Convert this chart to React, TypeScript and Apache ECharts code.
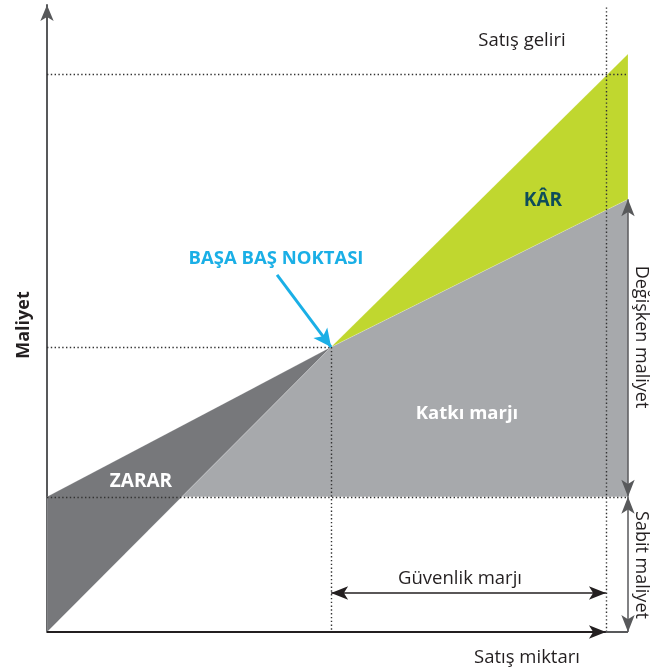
import React, { useEffect, useRef } from "react";
import * as echarts from "echarts";

// ---- data (chart units: quantity 0..100, money 0..100) ----
const X_MAX = 100;
const Y_MAX = 108.5;
const fixedCost = 23.4;
const totalCostAtEnd = 74.9;
const revenueAtEnd = 100;
const breakEven = [48.9, 49.3];
const actualSales = [96.2, 96.6]; // quantity, revenue
const safetyArrowLevel = 6.75;
const pointerStart = [39.6, 61.8];

const revenueCrossFixedX = (fixedCost * breakEven[0]) / breakEven[1];

const lossArea = [[0, 0], breakEven, [0, fixedCost]];
const contributionArea = [
  [revenueCrossFixedX, fixedCost],
  breakEven,
  [X_MAX, totalCostAtEnd],
  [X_MAX, fixedCost],
];
const profitArea = [breakEven, [X_MAX, revenueAtEnd], [X_MAX, totalCostAtEnd]];

const areaColors = ["#77787b", "#a7a9ac", "#c0d72f"];
const areas = [lossArea, contributionArea, profitArea];

const FONT = "'Open Sans', 'Noto Sans', sans-serif";

export default function App() {
  const ref = useRef<HTMLDivElement>(null);

  useEffect(() => {
    document.body.style.margin = "0";
    if (!ref.current) return;
    const chart = echarts.init(ref.current, null, { renderer: "svg" });

    const dotted = {
      color: "#333333",
      width: 1.4,
      type: [1.4, 2.4] as any,
    };

    const txt = (
      text: string,
      x: number,
      y: number,
      font: string,
      fill: string,
      rotation = 0
    ) => ({
      type: "text",
      x,
      y,
      z: 100,
      rotation,
      silent: true,
      style: { text, font, fill, align: "center", verticalAlign: "middle" },
    });

    const option: any = {
      animation: false,
      grid: { left: 47, right: 37, top: 5, bottom: 37 },
      xAxis: {
        type: "value",
        min: 0,
        max: X_MAX,
        show: false,
      },
      yAxis: {
        type: "value",
        min: 0,
        max: Y_MAX,
        axisLine: {
          show: true,
          symbol: ["none", "arrow"],
          symbolSize: [10, 16],
          lineStyle: { color: "#58595b", width: 2 },
        },
        axisTick: { show: false },
        axisLabel: { show: false },
        splitLine: { show: false },
      },
      series: [
        {
          type: "custom",
          silent: true,
          clip: false,
          data: areas.map((_, i) => [i, 0]),
          renderItem: (params: any, api: any) => {
            const i = params.dataIndex;
            return {
              type: "polygon",
              shape: { points: areas[i].map((p) => api.coord(p)) },
              style: { fill: areaColors[i], stroke: "rgba(255,255,255,0.35)", lineWidth: 0.5 },
            };
          },
          z: 1,
        },
        {
          type: "line",
          data: [],
          z: 3,
          markLine: {
            silent: true,
            symbol: "none",
            label: { show: false },
            lineStyle: dotted,
            data: [
              [{ coord: [0, fixedCost] }, { coord: [X_MAX, fixedCost] }],
              [{ coord: [0, breakEven[1]] }, { coord: breakEven }],
              [{ coord: breakEven }, { coord: [breakEven[0], 0] }],
              [{ coord: [0, actualSales[1]] }, { coord: [X_MAX, actualSales[1]] }],
              [{ coord: [actualSales[0], 0] }, { coord: [actualSales[0], Y_MAX] }],
            ],
          },
        },
        {
          type: "line",
          data: [],
          z: 4,
          markLine: {
            silent: true,
            label: { show: false },
            symbol: ["none", "arrow"],
            symbolSize: [10, 17],
            lineStyle: { color: "#231f20", width: 2, type: "solid" },
            data: [[{ coord: [0, 0] }, { coord: [actualSales[0], 0] }]],
          },
        },
        {
          type: "line",
          data: [],
          z: 4,
          markLine: {
            silent: true,
            label: { show: false },
            symbol: "none",
            lineStyle: { color: "#58595b", width: 2, type: "solid" },
            data: [[{ coord: [actualSales[0], 0] }, { coord: [X_MAX, 0] }]],
          },
        },
        {
          type: "line",
          data: [],
          z: 4,
          markLine: {
            silent: true,
            label: { show: false },
            symbol: ["arrow", "arrow"],
            symbolSize: [10, 17],
            lineStyle: { color: "#231f20", width: 1.5, type: "solid" },
            data: [
              [{ coord: [breakEven[0], safetyArrowLevel] }, { coord: [actualSales[0], safetyArrowLevel] }],
            ],
          },
        },
        {
          type: "line",
          data: [],
          z: 4,
          markLine: {
            silent: true,
            label: { show: false },
            symbol: ["arrow", "arrow"],
            symbolSize: [10, 17],
            lineStyle: { color: "#58595b", width: 1.5, type: "solid" },
            data: [
              [{ coord: [X_MAX, totalCostAtEnd] }, { coord: [X_MAX, fixedCost] }],
              [{ coord: [X_MAX, fixedCost] }, { coord: [X_MAX, 0] }],
            ],
          },
        },
        {
          type: "line",
          data: [],
          z: 5,
          markLine: {
            silent: true,
            label: { show: false },
            symbol: ["none", "arrow"],
            symbolSize: [13, 18],
            lineStyle: { color: "#1aafe6", width: 3, type: "solid" },
            data: [[{ coord: pointerStart }, { coord: breakEven }]],
          },
        },
      ],
      graphic: [
        txt("Satış geliri", 522, 38, `400 18.5px ${FONT}`, "#231f20"),
        txt("KÂR", 543, 199, `700 19px ${FONT}`, "#0e4d5a"),
        txt("BAŞA BAŞ NOKTASI", 276, 256, `700 18.5px ${FONT}`, "#1aafe6"),
        txt("Katkı marjı", 467, 411, `700 18.5px ${FONT}`, "#ffffff"),
        txt("ZARAR", 141, 480, `700 19px ${FONT}`, "#ffffff"),
        txt("Güvenlik marjı", 460, 576, `400 18.5px ${FONT}`, "#231f20"),
        txt("Satış miktarı", 527, 655, `400 18.5px ${FONT}`, "#231f20"),
        txt("Maliyet", 22, 325, `700 18px ${FONT}`, "#231f20", Math.PI / 2),
        txt("Değişken maliyet", 643, 337, `400 18px ${FONT}`, "#231f20", -Math.PI / 2),
        txt("Sabit maliyet", 643, 565, `400 18px ${FONT}`, "#231f20", -Math.PI / 2),
      ],
    };

    chart.setOption(option);
    return () => chart.dispose();
  }, []);

  return (
    <div
      ref={ref}
      style={{ position: "fixed", left: 0, top: 0, width: 665, height: 669 }}
    />
  );
}
